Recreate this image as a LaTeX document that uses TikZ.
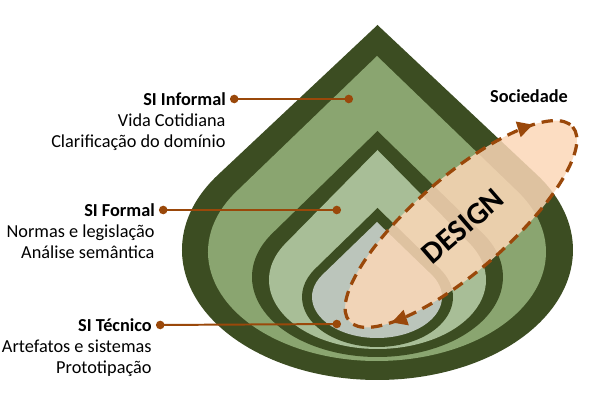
\documentclass[tikz,border=0pt]{standalone}
\usepackage{fontspec}
\setmainfont{Carlito}
\usetikzlibrary{arrows.meta}
\usetikzlibrary{positioning}
\usetikzlibrary{decorations.markings}
\definecolor{leafdark}{RGB}{60,77,34}
\definecolor{leafmid}{RGB}{138,165,112}
\definecolor{leaflight}{RGB}{168,190,151}
\definecolor{leafgrey}{RGB}{187,197,187}
\definecolor{peach}{RGB}{251,215,183}
\definecolor{rust}{RGB}{154,72,10}
\tikzstyle{sititle} = [font=\bfseries\fontsize{13}{15}\selectfont, inner sep=0pt, outer sep=3pt]
\tikzstyle{sidesc} = [font=\fontsize{13}{14.6}\selectfont, align=right, inner sep=0pt]
\tikzstyle{silink} = [rust, line width=1.4pt, {Circle[length=6pt]}-{Circle[length=6pt]}]
% one drop: colour, centre x, centre y, x radius, y radius, tip height
\newcommand{\leafdrop}[6]{%
  \pgfmathsetmacro{\dropang}{asin(#5/#6)}%
  \pgfmathsetmacro{\dropx}{#2+#4*cos(180-\dropang)}%
  \pgfmathsetmacro{\dropy}{#3+#5*sin(180-\dropang)}%
  \pgfmathsetmacro{\droptip}{#3+#6}%
  \fill[#1] (#2,\droptip) -- (\dropx,\dropy)
    arc[start angle=180-\dropang, end angle=360+\dropang, x radius=#4, y radius=#5] -- cycle;}

\begin{document}
\begin{tikzpicture}[x=0.025cm, y=0.025cm]
  \useasboundingbox (0,0) rectangle (600,400);

  % the drop, outside in
  \leafdrop{leafdark}{377.5}{150}{195.5}{130}{225}
  \leafdrop{leafmid}{377}{148}{169}{109}{196}
  \leafdrop{leafdark}{377.5}{123}{125.5}{80}{146}
  \leafdrop{leaflight}{377.5}{120}{108.5}{69}{130}
  \leafdrop{leafdark}{377.5}{103}{75.5}{50}{89}
  \leafdrop{leafgrey}{377}{103}{65}{41}{75}

  % design loop
  \begin{scope}[shift={(461,176)}, rotate=41]
    \fill[peach, opacity=0.85] (0,0) ellipse [x radius=148, y radius=47];
    \draw[rust, line width=2.3pt, dash pattern=on 8pt off 5pt,
      postaction={decorate, solid},
      decoration={markings,
        mark=at position 0.432 with {\arrow{Triangle[length=11pt, width=11pt]}},
        mark=at position 0.936 with {\arrow{Triangle[length=11pt, width=11pt]}}}]
      (148,0) arc[start angle=0, end angle=-360, x radius=148, y radius=47];
    \node[font=\bfseries\fontsize{22}{26}\selectfont, rotate=41] (design) at (0,-3) {DESIGN};
  \end{scope}

  \node[font=\bfseries\fontsize{13}{15}\selectfont] (soc) at (529,304) {Sociedade};

  % labels
  \node[sititle, anchor=east] (inf) at (230,301) {SI Informal};
  \node[sidesc, anchor=north east] (infd) at ([xshift=-3pt, yshift=-3pt]inf.south east) {Vida Cotidiana\\Clarificação do domínio};
  \coordinate (infp) at (353,301);
  \draw[silink] (inf.east) -- (infp);

  \node[sititle, anchor=east] (for) at (159,190) {SI Formal};
  \node[sidesc, anchor=north east] (ford) at ([xshift=-3pt, yshift=-3pt]for.south east) {Normas e legislação\\Análise semântica};
  \coordinate (forp) at (341,190);
  \draw[silink] (for.east) -- (forp);

  \node[sititle, anchor=east] (tec) at (156,75) {SI Técnico};
  \node[sidesc, anchor=north east] (tecd) at ([xshift=-3pt, yshift=-3pt]tec.south east) {Artefatos e sistemas\\Prototipação};
  \coordinate (tecp) at (341,76);
  \draw[silink] (tec.east) -- (tecp);
\end{tikzpicture}
\end{document}
